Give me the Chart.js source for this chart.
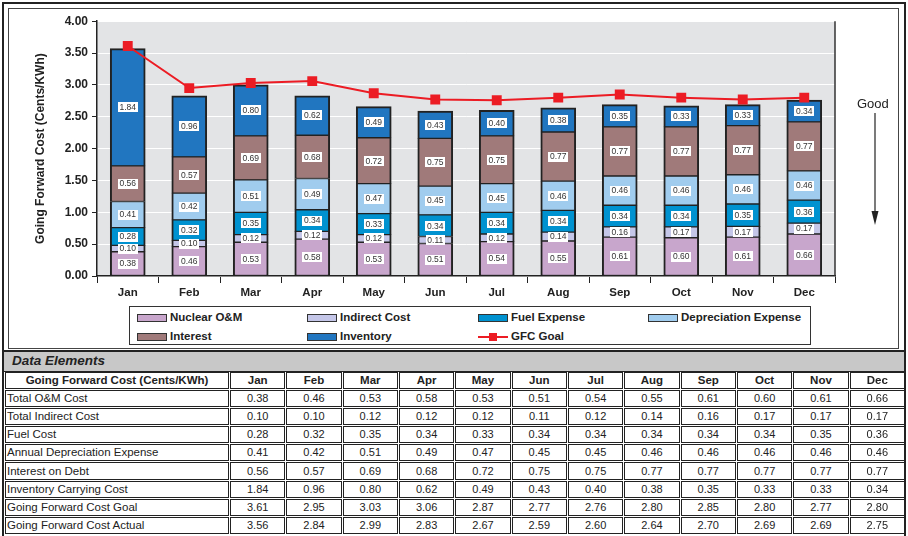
<!DOCTYPE html>
<html>
<head>
<meta charset="utf-8">
<script src="https://cdn.jsdelivr.net/npm/chart.js@4.4.0/dist/chart.umd.min.js"></script>
<style>
html,body{margin:0;padding:0;background:#fff;}
body{width:908px;height:536px;position:relative;overflow:hidden;font-family:"Liberation Sans",Arial,sans-serif;color:#222;}
#outer{position:absolute;left:2px;top:2px;width:904px;height:560px;border:2px solid #222;box-sizing:border-box;}
#chartFrame{position:absolute;left:8px;top:8px;width:891px;height:341px;border:1.5px solid #444;box-sizing:border-box;}
#c{position:absolute;left:10px;top:10px;}
#legend{position:absolute;left:129px;top:306px;width:682px;height:39px;border:1px solid #333;box-sizing:border-box;background:#fff;}
.li{position:absolute;font-weight:bold;font-size:11.5px;line-height:14px;white-space:nowrap;color:#222;}
.sw{display:inline-block;width:30px;height:8px;border:1.5px solid #333;box-sizing:border-box;vertical-align:-1px;margin-right:3px;}
.swl{display:inline-block;width:30px;height:8px;position:relative;vertical-align:-1px;margin-right:3px;}
.swl i{position:absolute;left:0;top:3px;width:30px;height:2px;background:#EC1C24;}
.swl b{position:absolute;left:11px;top:0;width:8px;height:8px;background:#EC1C24;}
#good{position:absolute;left:857px;top:96px;font-size:13px;line-height:15px;color:#222;}
#arrow{position:absolute;left:865px;top:113px;}
#de{position:absolute;left:4px;top:350px;width:900px;height:22px;border-top:2px solid #222;border-bottom:1px solid #222;background:#C8C8C8;box-sizing:border-box;font-weight:bold;font-style:italic;font-size:13.5px;line-height:18px;padding-left:8px;}
#tbl{position:absolute;left:4px;top:371px;width:902px;border-collapse:separate;border-spacing:1px;table-layout:fixed;}
#tbl td,#tbl th{border:1px solid #222;padding:0;height:15.1px;line-height:15px;font-size:11px;text-align:center;overflow:hidden;white-space:nowrap;}
#tbl th{font-weight:bold;font-size:11.5px;}
#tbl td.lab{text-align:left;font-size:11.5px;padding-left:1px;}
</style>
</head>
<body>
<div id="outer"></div>
<div id="chartFrame"></div>
<canvas id="c" width="888" height="296"></canvas>
<div id="legend"></div>
<div id="good">Good</div>
<svg id="arrow" width="20" height="115" viewBox="0 0 20 115"><line x1="10" y1="0" x2="10" y2="100" stroke="#222" stroke-width="1.2"/><polygon points="6.5,98 13.5,98 10,112" fill="#222"/></svg>
<div id="de">Data Elements</div>
<table id="tbl"><colgroup><col style="width:224px"></colgroup><thead></thead><tbody></tbody></table>
<script>
const months = ['Jan','Feb','Mar','Apr','May','Jun','Jul','Aug','Sep','Oct','Nov','Dec'];
const nuclearOM = [0.38,0.46,0.53,0.58,0.53,0.51,0.54,0.55,0.61,0.60,0.61,0.66];
const indirectCost = [0.10,0.10,0.12,0.12,0.12,0.11,0.12,0.14,0.16,0.17,0.17,0.17];
const fuelExpense = [0.28,0.32,0.35,0.34,0.33,0.34,0.34,0.34,0.34,0.34,0.35,0.36];
const depreciationExpense = [0.41,0.42,0.51,0.49,0.47,0.45,0.45,0.46,0.46,0.46,0.46,0.46];
const interest = [0.56,0.57,0.69,0.68,0.72,0.75,0.75,0.77,0.77,0.77,0.77,0.77];
const inventory = [1.84,0.96,0.80,0.62,0.49,0.43,0.40,0.38,0.35,0.33,0.33,0.34];
const gfcGoal = [3.61,2.95,3.03,3.06,2.87,2.77,2.76,2.80,2.85,2.80,2.77,2.80];
const gfcActual = [3.56,2.84,2.99,2.83,2.67,2.59,2.60,2.64,2.70,2.69,2.69,2.75];
const seriesNames = ['Nuclear O&M','Indirect Cost','Fuel Expense','Depreciation Expense','Interest','Inventory'];
const goalName = 'GFC Goal';
const yAxisTitle = 'Going Forward Cost (Cents/KWh)';
const tableTitle = 'Going Forward Cost (Cents/KWh)';
const tableRowLabels = ['Total O&M Cost','Total Indirect Cost','Fuel Cost','Annual Depreciation Expense','Interest on Debt','Inventory Carrying Cost','Going Forward Cost Goal','Going Forward Cost Actual'];

const FONT = '"Liberation Sans", Arial, sans-serif';
const seriesData = [nuclearOM, indirectCost, fuelExpense, depreciationExpense, interest, inventory];
const seriesColors = ['#C8A6CC','#C4C6E8','#0092D0','#A0CCEE','#A07A7A','#2176C0'];
const goalColor = '#EC1C24';

const datasets = [{
  type:'line', label:goalName, data:gfcGoal, stack:'goal', order:0,
  borderColor:goalColor, backgroundColor:goalColor, borderWidth:2,
  pointStyle:'rect', pointRadius:7, pointHoverRadius:7, pointBorderWidth:0, tension:0
}];
seriesData.forEach((d,i)=>{
  const last = i === seriesData.length-1;
  datasets.push({
    type:'bar', label:seriesNames[i], data:d, stack:'cost', order:1,
    backgroundColor:seriesColors[i], borderColor:'#222',
    borderWidth:{left:2,right:2,top:last?2:1,bottom:1}, borderSkipped:false,
    barThickness:35
  });
});

const plotDeco = {
  id:'plotDeco',
  beforeDraw(chart){
    const {ctx, chartArea:a} = chart;
    ctx.save(); ctx.fillStyle='#E3E4E6';
    ctx.fillRect(a.left,a.top,a.right-a.left,a.bottom-a.top); ctx.restore();
  },
  afterDatasetsDraw(chart){
    const ctx = chart.ctx;
    ctx.save();
    ctx.font = '8.5px ' + FONT;
    ctx.textAlign='center'; ctx.textBaseline='middle';
    chart.data.datasets.forEach((ds,i)=>{
      if(ds.type!=='bar') return;
      const meta = chart.getDatasetMeta(i);
      meta.data.forEach((el,j)=>{
        const txt = ds.data[j].toFixed(2);
        const x = el.x, y = (el.y + el.base)/2;
        const w = Math.ceil(ctx.measureText(txt).width) + 3, h = 10;
        ctx.fillStyle='#fff';
        ctx.fillRect(Math.round(x - w/2), Math.round(y - h/2), w, h);
        ctx.fillStyle='#333';
        ctx.fillText(txt, x, y + 0.5);
      });
    });
    ctx.restore();
  },
  afterDraw(chart){
    const {ctx, chartArea:a} = chart;
    ctx.save(); ctx.strokeStyle='#333'; ctx.lineWidth=1.5;
    ctx.beginPath(); ctx.moveTo(a.right, a.top); ctx.lineTo(a.right, a.bottom); ctx.stroke();
    ctx.restore();
  }
};

new Chart(document.getElementById('c'), {
  data:{labels:months, datasets},
  options:{
    responsive:false, animation:false, devicePixelRatio:1,
    layout:{padding:{top:11,right:63,bottom:0,left:0}},
    plugins:{legend:{display:false}, tooltip:{enabled:false}},
    scales:{
      x:{
        stacked:true, offset:true,
        grid:{display:true, drawOnChartArea:false, drawTicks:true, tickLength:7, color:'#222', lineWidth:1, offset:true},
        border:{display:true, color:'#222', width:1.5},
        ticks:{font:{family:FONT, size:11.5, weight:'bold'}, color:'#222', padding:3},
        afterFit(s){ s.height = 30; }
      },
      y:{
        stacked:true, min:0, max:4,
        ticks:{stepSize:0.5, callback:v=>Number(v).toFixed(2), font:{family:FONT, size:12, weight:'bold'}, color:'#222', padding:4},
        grid:{color:'#fff', lineWidth:1, tickColor:'#222', tickLength:5, drawTicks:true},
        border:{display:true, color:'#222', width:1.5},
        title:{display:true, text:yAxisTitle, font:{family:FONT, size:12, weight:'bold'}, color:'#222', padding:{top:23,bottom:0}},
        afterFit(s){ s.width = 87; }
      }
    }
  },
  plugins:[plotDeco]
});

// legend
const legend = document.getElementById('legend');
const colX = [7,177,348,518], rowY = [3,22];
const items = seriesNames.map((n,i)=>({name:n, color:seriesColors[i]})).concat([{name:goalName, line:true}]);
items.forEach((it,k)=>{
  const d = document.createElement('div');
  d.className='li';
  d.style.left = colX[k%4]+'px';
  d.style.top = rowY[Math.floor(k/4)]+'px';
  const sw = it.line ? '<span class="swl"><i></i><b></b></span>' : '<span class="sw" style="background:'+it.color+'"></span>';
  d.innerHTML = sw + it.name.replace('&','&amp;');
  legend.appendChild(d);
});

// table
const tbl = document.getElementById('tbl');
const thead = tbl.querySelector('thead'), tbody = tbl.querySelector('tbody');
let h = '<tr><th>'+tableTitle+'</th>' + months.map(m=>'<th>'+m+'</th>').join('') + '</tr>';
thead.innerHTML = h;
const tableRows = [nuclearOM, indirectCost, fuelExpense, depreciationExpense, interest, inventory, gfcGoal, gfcActual];
tbody.innerHTML = tableRows.map((r,i)=>'<tr><td class="lab">'+tableRowLabels[i].replace('&','&amp;')+'</td>'+r.map(v=>'<td>'+v.toFixed(2)+'</td>').join('')+'</tr>').join('');
</script>
</body>
</html>
